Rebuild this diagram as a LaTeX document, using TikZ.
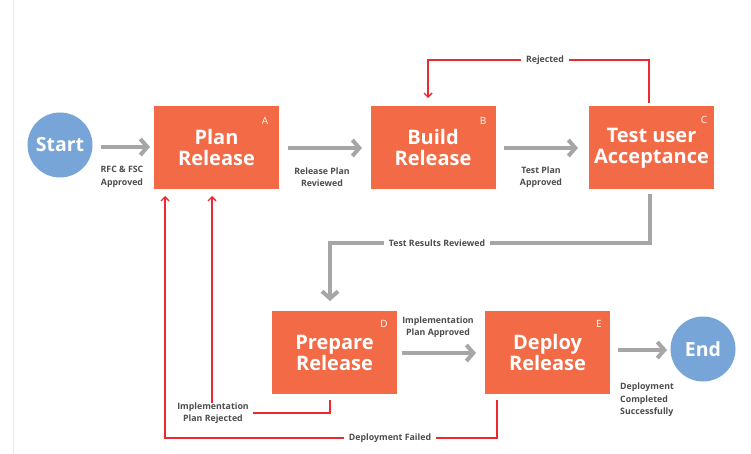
\documentclass[tikz,border=0pt]{standalone}
\usepackage{fontspec}
\setmainfont{Open Sans}
\usetikzlibrary{arrows.meta}
\definecolor{boxor}{HTML}{F26A46}
\definecolor{circblue}{HTML}{78A5D8}
\definecolor{arrowgray}{HTML}{A6A6A6}
\definecolor{labgray}{HTML}{4D4D4D}
\definecolor{redln}{HTML}{EA2A2E}
\tikzset{
  stepbox/.style={rectangle, fill=boxor, minimum width=125pt, minimum height=83pt, text=white,
    font=\fontsize{20}{21}\selectfont\bfseries, align=center, inner sep=0pt},
  endpt/.style={circle, fill=circblue, minimum size=65pt, text=white,
    font=\fontsize{19.5}{21}\selectfont\bfseries, inner sep=0pt},
  letter/.style={text=white, font=\fontsize{10}{12}\selectfont, inner sep=0pt},
  garrow/.style={draw=arrowgray, line width=4pt, -{Straight Barb[length=7pt,width=16pt]}},
  redarr/.style={draw=redln, line width=1.4pt, -{Straight Barb[length=4pt,width=8pt]}},
  redline/.style={draw=redln, line width=1.4pt},
  lbl/.style={font=\fontsize{8.8}{12.5}\selectfont\bfseries, text=labgray, align=center, inner sep=1pt},
  gaplbl/.style={lbl, fill=white, inner xsep=5pt, inner ysep=2pt}
}
\begin{document}
\begin{tikzpicture}[x=1pt,y=-1pt]
\useasboundingbox[fill=white] (0,0) rectangle (751,454);
\draw[line width=0.8pt, black!8] (13,0) -- (13,454);

% nodes
\node[endpt] (start) at (60,145) {Start};
\node[stepbox] (A) at (216.5,148) {Plan\\Release};
\node[stepbox] (B) at (433,148) {Build\\Release};
\node[stepbox] (C) at (651.5,148) {Test user\\Acceptance};
\node[stepbox] (D) at (334.5,352.5) {Prepare\\Release};
\node[stepbox] (E) at (547.5,352.5) {Deploy\\Release};
\node[endpt] (end) at (703,349) {End};

\node[letter] (lA) at (265,121) {A};
\node[letter] (lB) at (483,121) {B};
\node[letter] (lC) at (704,120) {C};
\node[letter] (lD) at (384,324) {D};
\node[letter] (lE) at (599,324) {E};

% gray arrows
\coordinate (s1) at (101,147); \coordinate (t1) at (150,147);
\draw[garrow] (s1) -- (t1);
\coordinate (s2) at (288,148); \coordinate (t2) at (362,148);
\draw[garrow] (s2) -- (t2);
\coordinate (s3) at (504,148); \coordinate (t3) at (578,148);
\draw[garrow] (s3) -- (t3);
\coordinate (trS) at (650,194); \coordinate (trR) at (650,243); \coordinate (trL) at (330,301);
\draw[garrow] (trS) -- (trR) -| (trL);
\coordinate (s4) at (402,353); \coordinate (t4) at (476,353);
\draw[garrow] (s4) -- (t4);
\coordinate (s5) at (618,350); \coordinate (t5) at (667,350);
\draw[garrow] (s5) -- (t5);

% red connectors
\coordinate (rjS) at (649,103); \coordinate (rjR) at (649,60); \coordinate (rjL) at (428,98);
\draw[redarr] (rjS) -- (rjR) -| (rjL);

\node[lbl] (irl) at (213,413) {Implementation\\Plan Rejected};
\coordinate (irD) at (330,400);
\draw[redline] (irD) |- ([xshift=3pt]irl.east);
\coordinate (aR2) at (212,196);
\draw[redarr] ([yshift=-2pt]aR2 |- irl.north) -- (aR2);

\coordinate (dfE) at (497,400); \coordinate (dfC) at (165,438); \coordinate (aR1) at (165,196);
\draw[redarr] (dfE) |- (dfC) -- (aR1);

% labels
\node[lbl] (l1) at (122,177) {RFC \& FSC\\Approved};
\node[lbl] (l2) at (322,177) {Release Plan\\Reviewed};
\node[lbl] (l3) at (541,177) {Test Plan\\Approved};
\node[gaplbl] (l4) at (545,60) {Rejected};
\node[gaplbl] (l5) at (437,243) {Test Results Reviewed};
\node[lbl] (l6) at (438,327) {Implementation\\Plan Approved};
\node[gaplbl] (l7) at (390,438) {Deployment Failed};
\node[lbl, align=left, anchor=west] (l8) at (619,400) {Deployment\\Completed\\Successfully};
\end{tikzpicture}
\end{document}
